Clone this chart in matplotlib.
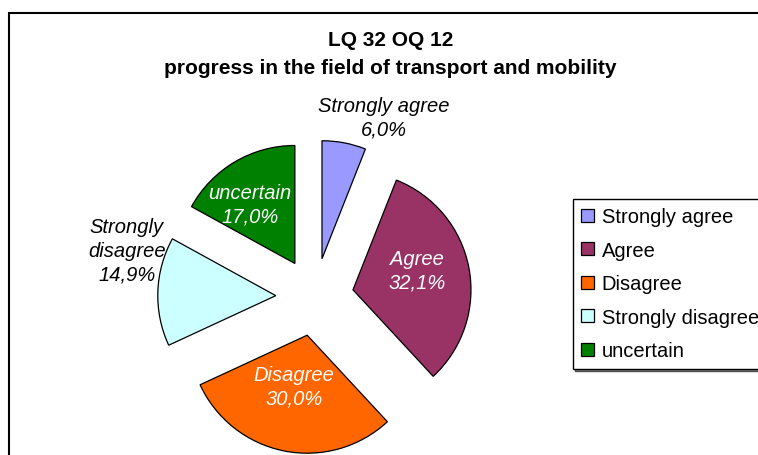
import numpy as np
import matplotlib
matplotlib.use("Agg")
import matplotlib.pyplot as plt
from matplotlib.patches import Rectangle

plt.rcParams['font.family'] = ['Liberation Sans', 'DejaVu Sans']

categories = ['Strongly agree', 'Agree', 'Disagree', 'Strongly disagree', 'uncertain']
shares = [6.0, 32.1, 30.0, 14.9, 17.0]
slice_labels = ['Strongly agree', 'Agree', 'Disagree', 'Strongly\ndisagree', 'uncertain']
colors = ['#9999FF', '#993366', '#FF6600', '#CCFFFF', '#008000']
text_colors = ['black', 'white', 'white', 'black', 'white']
# label placement: distance (in radii) from the exploded wedge apex, angle tweak
label_dist = [1.31, 0.57, 0.45, 1.32, 0.63]
label_dang = [-12.8, 6, -3, -15, 6.7]

W, H = 758, 456
fig = plt.figure(figsize=(W / 100, H / 100), dpi=100)
ax = fig.add_axes([0, 0, 1, 1])

r = 118
cx, cy = 314.7, H - 298
# explode is in data units here (radius is not 1)
wedges, _ = ax.pie(shares, colors=colors, startangle=90, counterclock=False,
                   explode=[0.33 * r] * len(shares), radius=r, center=(cx, cy),
                   wedgeprops=dict(edgecolor='black', linewidth=0.9))
ax.set_xlim(0, W)
ax.set_ylim(0, H)
ax.set_aspect('equal')
ax.axis('off')

for w, lab, val, tc, d, da in zip(wedges, slice_labels, shares, text_colors, label_dist, label_dang):
    mid = np.deg2rad((w.theta1 + w.theta2) / 2 + da)
    x = w.center[0] + d * r * np.cos(mid)
    y = w.center[1] + d * r * np.sin(mid)
    ax.text(x, y, f"{lab}\n{val:.1f}%".replace('.', ','), ha='center', va='center',
            fontsize=14.5, style='italic', color=tc, linespacing=1.3)

# chart area border
ax.add_patch(Rectangle((9, -20), W + 20, H - 13.5 + 20, fill=False,
                       edgecolor='black', linewidth=1.5))

fig.text(391 / W, 1 - 41 / H, 'LQ 32 OQ 12', ha='center', va='center',
         fontsize=15, fontweight='bold')
fig.text(390 / W, 1 - 69 / H, 'progress in the field of transport and mobility',
         ha='center', va='center', fontsize=15, fontweight='bold')

leg = ax.legend(wedges, categories, loc='upper left',
                bbox_to_anchor=(573 / W, 1 - 200 / H), bbox_transform=fig.transFigure,
                fontsize=14.5, frameon=True, fancybox=False, edgecolor='black',
                shadow={'ox': 1.5, 'oy': -1.5, 'facecolor': '#808080', 'alpha': 1},
                handlelength=0.6, handleheight=0.6, handletextpad=0.4,
                labelspacing=0.72, borderpad=0.42, borderaxespad=0)
leg.get_frame().set_linewidth(1.0)

fig.savefig('out.png', dpi=100)
